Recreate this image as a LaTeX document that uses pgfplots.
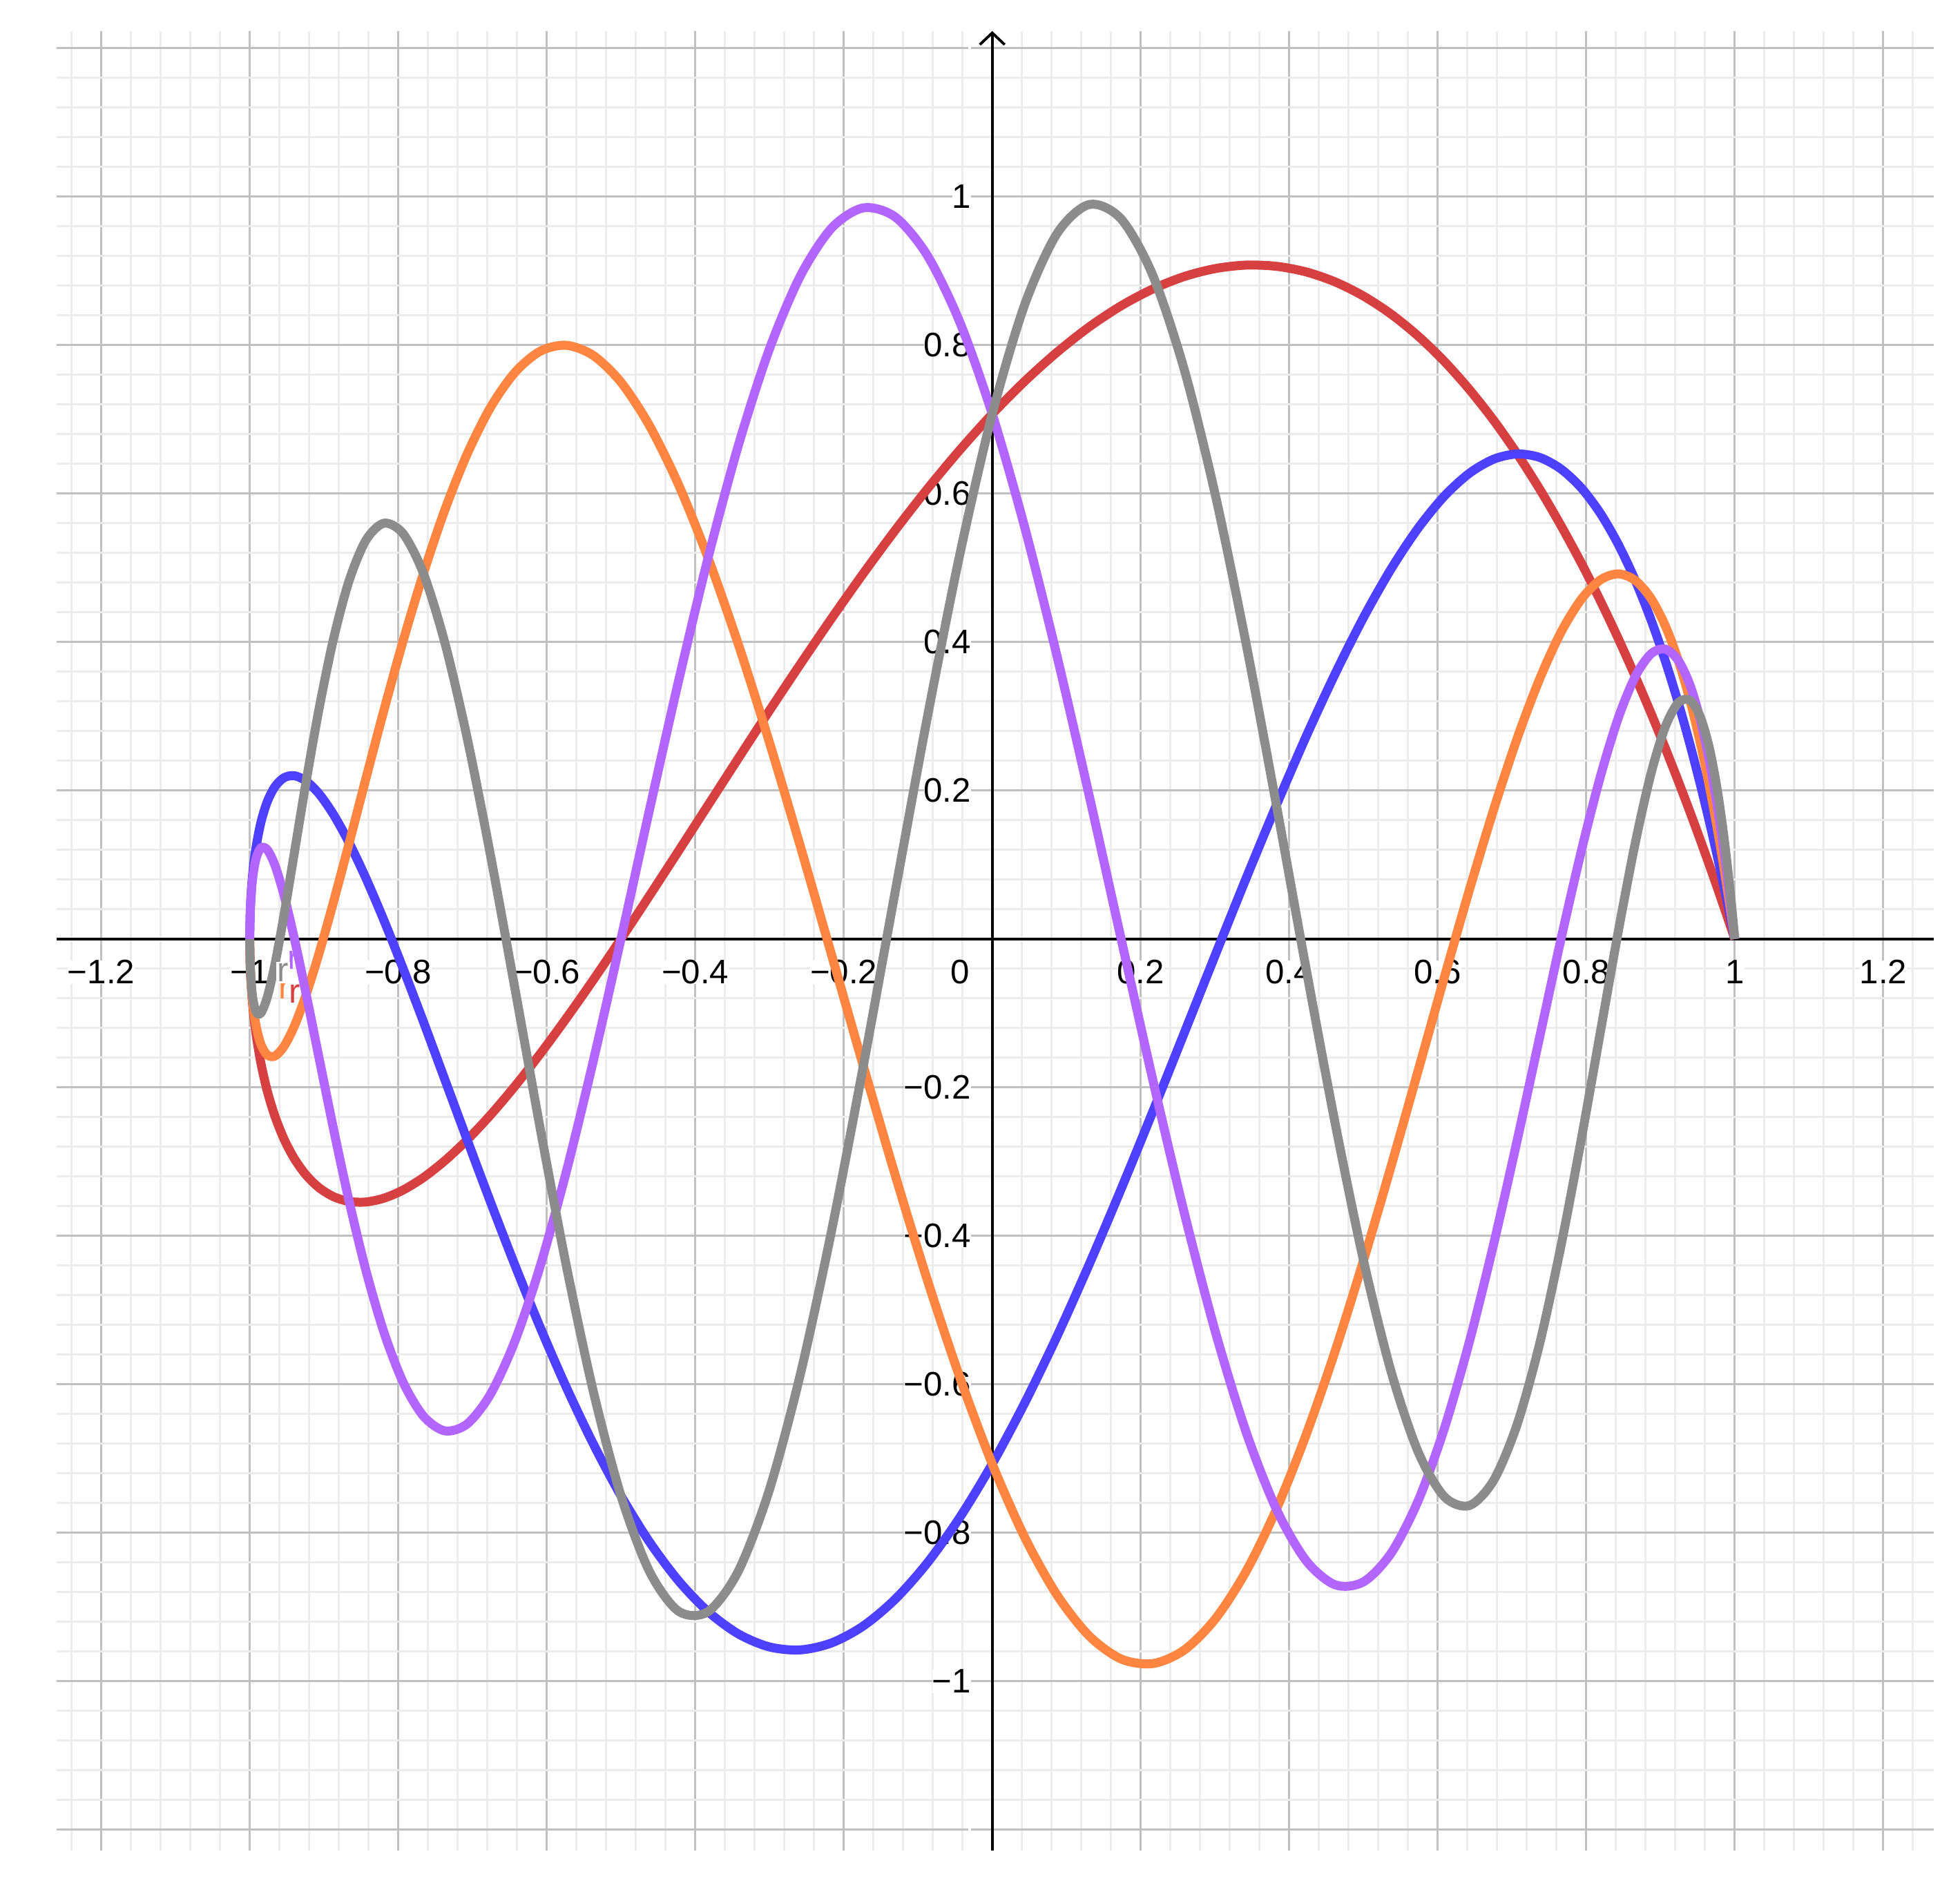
\documentclass[border=0pt]{standalone}
\usepackage{pgfplots}
\pgfplotsset{compat=1.18}
\usepackage{pgfplotstable}
\usepackage{fontspec}
\setmainfont{Liberation Sans}
\usetikzlibrary{arrows.meta}

\definecolor{ggred}{RGB}{214,64,64}
\definecolor{ggblue}{RGB}{77,64,255}
\definecolor{ggorange}{RGB}{255,133,64}
\definecolor{ggpurple}{RGB}{178,102,255}
\definecolor{gggray}{RGB}{140,140,140}
\definecolor{majorgrid}{RGB}{192,192,192}
\definecolor{minorgrid}{RGB}{236,236,236}

% five curves, sampled every 2.5 degrees along the curve
\pgfplotstableread{
x       r       b       o       p       g
1       0       0       0       0       0
0.9990  0.0029  0.0047  0.0066  0.0085  0.0104
0.9962  0.0114  0.0189  0.0262  0.0334  0.0403
0.9914  0.0255  0.0420  0.0577  0.0725  0.0861
0.9848  0.0449  0.0734  0.0996  0.1228  0.1422
0.9763  0.0696  0.1123  0.1497  0.1800  0.2017
0.9659  0.0991  0.1576  0.2053  0.2391  0.2566
0.9537  0.1330  0.2079  0.2636  0.2949  0.2989
0.9397  0.1710  0.2620  0.3214  0.3420  0.3214
0.9239  0.2126  0.3182  0.3753  0.3753  0.3182
0.9063  0.2573  0.3749  0.4222  0.3905  0.2855
0.8870  0.3045  0.4304  0.4590  0.3839  0.2221
0.8660  0.3536  0.4830  0.4830  0.3536  0.1294
0.8434  0.4040  0.5310  0.4918  0.2985  0.0117
0.8192  0.4551  0.5730  0.4838  0.2195  -0.1242
0.7934  0.5062  0.6075  0.4577  0.1188  -0.2692
0.7660  0.5567  0.6330  0.4132  0       -0.4132
0.7373  0.6059  0.6486  0.3505  -0.1318 -0.5448
0.7071  0.6533  0.6533  0.2706  -0.2706 -0.6533
0.6756  0.6982  0.6464  0.1752  -0.4096 -0.7287
0.6428  0.7399  0.6275  0.0668  -0.5417 -0.7631
0.6088  0.7781  0.5965  -0.0519 -0.6596 -0.7512
0.5736  0.8121  0.5534  -0.1773 -0.7568 -0.6909
0.5373  0.8416  0.4987  -0.3057 -0.8272 -0.5832
0.5     0.8660  0.4330  -0.4330 -0.8660 -0.4330
0.4618  0.8851  0.3572  -0.5552 -0.8700 -0.2482
0.4226  0.8986  0.2725  -0.6682 -0.8373 -0.0395
0.3827  0.9061  0.1802  -0.7682 -0.7682 0.1802
0.3420  0.9077  0.0819  -0.8517 -0.6645 0.3971
0.3007  0.9031  -0.0208 -0.9156 -0.5299 0.5970
0.2588  0.8924  -0.1261 -0.9577 -0.3696 0.7663
0.2164  0.8756  -0.2321 -0.9761 -0.1905 0.8936
0.1736  0.8529  -0.3368 -0.9699 0       0.9699
0.1305  0.8244  -0.4385 -0.9388 0.1934  0.9893
0.0872  0.7903  -0.5353 -0.8836 0.3812  0.9501
0.0436  0.7511  -0.6253 -0.8057 0.5550  0.8541
0       0.7071  -0.7071 -0.7071 0.7071  0.7071
-0.0436 0.6587  -0.7791 -0.5907 0.8307  0.5183
-0.0872 0.6064  -0.8402 -0.4600 0.9204  0.2996
-0.1305 0.5508  -0.8892 -0.3187 0.9724  0.0648
-0.1736 0.4924  -0.9254 -0.1710 0.9848  -0.1710
-0.2164 0.4318  -0.9483 -0.0213 0.9575  -0.3932
-0.2588 0.3696  -0.9577 0.1261  0.8924  -0.5880
-0.3007 0.3066  -0.9535 0.2669  0.7930  -0.7438
-0.3420 0.2432  -0.9361 0.3971  0.6645  -0.8517
-0.3827 0.1802  -0.9061 0.5133  0.5133  -0.9061
-0.4226 0.1183  -0.8644 0.6123  0.3468  -0.9055
-0.4618 0.0580  -0.8119 0.6918  0.1730  -0.8516
-0.5    0       -0.7500 0.7500  0       -0.7500
-0.5373 -0.0552 -0.6801 0.7860  -0.1645 -0.6092
-0.5736 -0.1069 -0.6039 0.7997  -0.3135 -0.4401
-0.6088 -0.1548 -0.5231 0.7917  -0.4408 -0.2550
-0.6428 -0.1983 -0.4394 0.7631  -0.5417 -0.0668
-0.6756 -0.2370 -0.3546 0.7162  -0.6130 0.1122
-0.7071 -0.2706 -0.2706 0.6533  -0.6533 0.2706
-0.7373 -0.2988 -0.1891 0.5776  -0.6626 0.3995
-0.7660 -0.3214 -0.1116 0.4924  -0.6428 0.4924
-0.7934 -0.3382 -0.0398 0.4014  -0.5971 0.5460
-0.8192 -0.3492 0.0250  0.3082  -0.5299 0.5600
-0.8434 -0.3543 0.0817  0.2164  -0.4467 0.5372
-0.8660 -0.3536 0.1294  0.1294  -0.3536 0.4830
-0.8870 -0.3472 0.1674  0.0503  -0.2565 0.4048
-0.9063 -0.3353 0.1952  -0.0184 -0.1617 0.3116
-0.9239 -0.3182 0.2126  -0.0747 -0.0747 0.2126
-0.9397 -0.2962 0.2199  -0.1170 0       0.1170
-0.9537 -0.2697 0.2172  -0.1446 0.0587  0.0327
-0.9659 -0.2391 0.2053  -0.1576 0.0991  -0.0338
-0.9763 -0.2050 0.1850  -0.1563 0.1202  -0.0784
-0.9848 -0.1677 0.1574  -0.1422 0.1228  -0.0996
-0.9914 -0.1280 0.1236  -0.1171 0.1085  -0.0981
-0.9962 -0.0864 0.0851  -0.0831 0.0805  -0.0773
-0.9990 -0.0435 0.0434  -0.0431 0.0428  -0.0424
-1      0       0       0       0       0
}\curves

\begin{document}
\begin{tikzpicture}
\begin{axis}[
    set layers,
    scale only axis,
    width=27.18cm, height=26.35cm,
    xmin=-1.26, xmax=1.268, ymin=-1.228, ymax=1.223,
    axis lines=middle,
    axis line style={line width=1.1pt, black},
    x axis line style={-},
    y axis line style={-{Straight Barb[length=0.17cm,width=0.36cm,line width=1.1pt]}},
    xtick={-1.2,-1,-0.8,-0.6,-0.4,-0.2,0,0.2,0.4,0.6,0.8,1,1.2},
    xticklabels={−1.2,−1,−0.8,−0.6,−0.4,−0.2,,0.2,0.4,0.6,0.8,1,1.2},
    ytick={-1.2,-1,-0.8,-0.6,-0.4,-0.2,0,0.2,0.4,0.6,0.8,1,1.2},
    yticklabels={,−1,−0.8,−0.6,−0.4,−0.2,,0.2,0.4,0.6,0.8,1,},
    minor xtick={-1.24,-1.2,...,1.25},
    minor ytick={-1.2,-1.16,...,1.21},
    grid=both,
    major grid style={draw=majorgrid, line width=0.85pt},
    minor grid style={draw=minorgrid, line width=0.85pt},
    major tick length=0pt, minor tick length=0pt,
    ticklabel style={font=\fontsize{14}{16}\selectfont, fill=white, inner sep=0pt},
    xticklabel style={anchor=north, yshift=-0.30cm},
    yticklabel style={anchor=east, xshift=-0.30cm},
    clip=false,
]
\coordinate (bl) at (rel axis cs:0,0);
\coordinate (tr) at (rel axis cs:1,1);
\node[anchor=north east, inner sep=0pt, fill=white, font=\fontsize{14}{16}\selectfont,
      xshift=-0.32cm, yshift=-0.30cm] at (axis cs:0,0) {0};

\addplot[ggred, line width=3.7pt, smooth] table[x=x, y=r] {\curves};
\addplot[ggblue, line width=3.7pt, smooth] table[x=x, y=b] {\curves};
\addplot[ggorange, line width=3.7pt, smooth] table[x=x, y=o] {\curves};
\addplot[ggpurple, line width=3.7pt, smooth] table[x=x, y=p] {\curves};
\addplot[gggray, line width=3.7pt, smooth] table[x=x, y=g] {\curves};

% overlapping curve names near (-1,0)
\node[text=ggorange, font=\fontsize{14}{16}\selectfont] at (axis cs:-0.953,-0.068) {r};
\node[text=ggred, font=\fontsize{14}{16}\selectfont] at (axis cs:-0.939,-0.074) {r};
\node[text=ggpurple, font=\fontsize{14}{16}\selectfont] at (axis cs:-0.941,-0.028) {r};
\node[text=gggray, fill=white, inner sep=0.6pt, font=\fontsize{14}{16}\selectfont] at (axis cs:-0.955,-0.045) {r};
\end{axis}
\pgfresetboundingbox
\path ([shift={(-0.82cm,-0.59cm)}]bl) rectangle ([shift={(0.38cm,0.45cm)}]tr);
\end{tikzpicture}
\end{document}
